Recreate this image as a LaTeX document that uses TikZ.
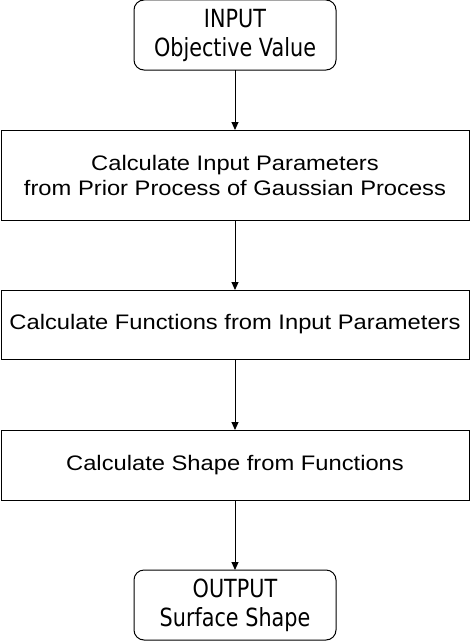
\documentclass[tikz,border=0pt]{standalone}
\usepackage{fontspec}
\setmainfont{Liberation Sans}
\newfontfamily\stepfont[FakeStretch=1.13]{Liberation Sans}
\newfontfamily\roundfont[FakeStretch=0.83]{DejaVu Sans}
\usetikzlibrary{shapes,arrows.meta,positioning}

\begin{document}
\begin{tikzpicture}[x=1pt,y=-1pt,
  every node/.style={outer sep=0pt,line width=1pt,align=center},
  stepbox/.style={draw,minimum width=468pt,font=\stepfont\fontsize{21}{25}\selectfont},
  endbox/.style={draw,rounded corners=10pt,minimum width=202pt,minimum height=70pt,
    inner sep=0pt,font=\roundfont\fontsize{25}{29}\selectfont},
  flow/.style={-{Triangle[width=7pt,length=8pt]},line width=1pt}]
\useasboundingbox (0,0) rectangle (471,642);
\node (In) [endbox] at (235,35) {INPUT\\Objective Value};
\node (Prior) [stepbox,minimum height=90pt] at (235,175)
{Calculate Input Parameters\\from Prior Process of Gaussian Process};
\node (Func) [stepbox,minimum height=69pt] at (235,324.5)
{Calculate Functions from Input Parameters};
\node (Shape) [stepbox,minimum height=70pt] at (235,465)
{Calculate Shape from Functions};
\node (Out) [endbox] at (235,605) {OUTPUT\\Surface Shape};
\draw [flow] (In) -- (Prior);
\draw [flow] (Prior) -- (Func);
\draw [flow] (Func) -- (Shape);
\draw [flow] (Shape) -- (Out);
\end{tikzpicture}
\end{document}
